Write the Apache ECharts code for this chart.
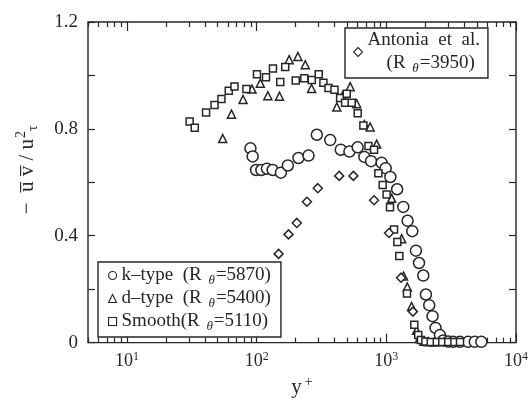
<!DOCTYPE html>
<html>
<head>
<meta charset="utf-8">
<script src="https://cdn.jsdelivr.net/npm/echarts@6/dist/echarts.min.js"></script>
<style>html,body{margin:0;padding:0;background:#fff}#c{width:531px;height:403px}</style>
</head>
<body>
<div id="c"></div>
<script>
// ---- data (y+ , -uv/u_tau^2) ----
const kType = [[89.5,0.727],[93.1,0.697],[98.8,0.646],[108.7,0.646],[120,0.651],[132.8,0.646],[153.8,0.636],[174,0.663],[210,0.691],[251,0.700],[291,0.778],[369,0.758],[445,0.722],[519,0.715],[601,0.731],[677,0.695],[763,0.679],[920,0.673],[988,0.653],[1074,0.620],[1211,0.574],[1351,0.508],[1458,0.456],[1585,0.417],[1692,0.344],[1786,0.298],[1927,0.251],[2019,0.180],[2142,0.140],[2271,0.099],[2395,0.055],[2590,0.028],[2744,0.008],[3000,0.004],[3275,0.003],[3690,0.003],[4274,0.003],[4810,0.003],[5410,0.003]];
const dType = [[54.7,0.764],[63.9,0.855],[78.5,0.910],[92,0.949],[106.7,0.971],[122,0.924],[150,0.922],[178,1.059],[208,1.071],[237,1.040],[265,0.951],[415,0.882],[459,0.923],[526,0.958],[591,0.894],[677,0.816],[750,0.807],[842,0.743],[1099,0.540],[1312,0.389],[1358,0.249],[1451,0.208],[1566,0.135],[1710,0.046],[1800,0.015],[1950,0.005],[2100,0.003],[2350,0.002]];
const smooth = [[30.4,0.828],[33.3,0.804],[40.7,0.861],[47.3,0.889],[53.5,0.912],[60.9,0.943],[67.4,0.959],[83.3,0.949],[100.5,1.004],[118,0.993],[133.5,1.026],[152,0.975],[166,1.032],[200,0.981],[233,0.989],[266,0.983],[301,1.004],[327,0.973],[358,0.953],[398,0.946],[440,0.916],[481,0.898],[495,0.931],[541,0.898],[601,0.858],[665,0.813],[728,0.736],[804,0.722],[868,0.634],[937,0.590],[1005,0.554],[1067,0.507],[1146,0.423],[1216,0.377],[1259,0.324],[1443,0.184],[1642,0.067],[1762,0.028],[1850,0.010],[2000,0.004],[2200,0.002],[2450,0.002],[2700,0.002],[3000,0.002],[3350,0.002],[3700,0.002]];
const antonia = [[147.6,0.332],[176,0.405],[204,0.448],[244,0.527],[296,0.578],[433,0.624],[557,0.624],[804,0.533],[1049,0.410],[1298,0.243],[1603,0.116]];

const seriesNames = ['k-type', 'd-type', 'Smooth', 'Antonia et al.'];
const legendLabels = {
  'k-type': '{t|k\u2013type  (R }{s|\u03b8}{t|=5870)}',
  'd-type': '{t|d\u2013type  (R }{s|\u03b8}{t|=5400)}',
  'Smooth': '{t|Smooth(R }{s|\u03b8}{t|=5110)}',
  'Antonia et al.': '{t|Antonia  et  al.}\n{t|    (R }{s|\u03b8}{t|=3950)}'
};
const xMajor = [10, 100, 1000, 10000];
const xMinor = [5,6,7,8,9,20,30,40,50,60,70,80,90,200,300,400,500,600,700,800,900,2000,3000,4000,5000,6000,7000,8000,9000];
const yLabels = ['0', '0.4', '0.8', '1.2'];

const INK = '#262626';
const FONT = '"Liberation Serif", "DejaVu Serif", serif';
const richText = {
  t: {fontFamily: FONT, fontSize: 19, color: INK, lineHeight: 23},
  s: {fontFamily: FONT, fontSize: 13, fontStyle: 'italic', color: INK, lineHeight: 23, verticalAlign: 'bottom', padding: [0, 1, 0, 2]}
};
const supRich = {
  b: {fontFamily: FONT, fontSize: 18, color: INK, lineHeight: 22},
  e: {fontFamily: FONT, fontSize: 12, color: INK, lineHeight: 22, verticalAlign: 'top'}
};
const nameRich = {
  b: {fontFamily: FONT, fontSize: 21, color: INK, lineHeight: 24},
  e: {fontFamily: FONT, fontSize: 14, color: INK, lineHeight: 24, verticalAlign: 'top', padding: [0, 0, 0, 3]}
};

function logAxis(pos, idx, isMajor) {
  return {
    type: 'log', logBase: 10, min: 5, max: 10000, position: pos,
    gridIndex: 0,
    axisLine: {show: false},
    splitLine: {show: false},
    axisTick: {show: true, inside: true, length: isMajor ? 9 : 5, lineStyle: {color: INK, width: 1.2},
      customValues: isMajor ? xMajor : xMinor},
    axisLabel: (isMajor && pos === 'bottom') ? {
      show: true, margin: 8, customValues: xMajor,
      formatter: v => '{b|10}{e|' + Math.round(Math.log10(v)) + '}',
      rich: supRich
    } : {show: false},
    name: (isMajor && pos === 'bottom') ? '{b|y}{e|+}' : '',
    nameLocation: 'middle', nameGap: 31,
    nameTextStyle: {fontFamily: FONT, fontSize: 21, color: INK, rich: nameRich}
  };
}
function linAxis(pos, showLabel) {
  return {
    type: 'value', min: 0, max: 1.2, interval: 0.2, position: pos,
    axisLine: {show: false}, splitLine: {show: false},
    axisTick: {show: true, inside: true, length: 7, lineStyle: {color: INK, width: 1.2}},
    axisLabel: showLabel ? {
      show: true, margin: 10, fontFamily: FONT, fontSize: 19, color: INK,
      formatter: v => { const s = v.toFixed(1); const m = {'0.0': '0', '0.4': '0.4', '0.8': '0.8', '1.2': '1.2'}; return m[s] || ''; }
    } : {show: false},
    name: showLabel ? '{t|\u2212  u\u0305 v\u0305 / u}{p|2}{q|\u03c4}' : '',
    nameLocation: 'middle', nameGap: 48, nameRotate: 90,
    nameTextStyle: {fontFamily: FONT, fontSize: 21, color: INK, padding: [0, 0, 0, 25], rich: {
      t: {fontFamily: FONT, fontSize: 21, color: INK, lineHeight: 26},
      p: {fontFamily: FONT, fontSize: 14, color: INK, lineHeight: 26, verticalAlign: 'top', padding: [0, 0, 0, 1]},
      q: {fontFamily: FONT, fontSize: 14, color: INK, lineHeight: 26, verticalAlign: 'bottom'}
    }}
  };
}

function sc(name, data, symbol, size) {
  return {
    name: name, type: 'scatter', data: data, symbol: symbol, symbolSize: size,
    xAxisIndex: 0, yAxisIndex: 0,
    itemStyle: {color: '#fff', borderColor: INK, borderWidth: 1.5, opacity: 1},
    emphasis: {disabled: true}
  };
}

const chart = echarts.init(document.getElementById('c'), null, {renderer: 'canvas'});
chart.setOption({
  animation: false,
  backgroundColor: '#fff',
  grid: {left: 88, right: 14, top: 22, bottom: 52, show: true, borderColor: INK, borderWidth: 1.4, backgroundColor: 'transparent'},
  xAxis: [logAxis('bottom', 0, true), logAxis('bottom', 1, false), logAxis('top', 2, true), logAxis('top', 3, false)],
  yAxis: [linAxis('left', true), linAxis('right', false)],
  legend: [
    {
      data: seriesNames.slice(0, 3), orient: 'vertical', left: 98, top: 262,
      itemWidth: 8, itemHeight: 8, itemGap: 2, padding: [4, 10, 4, 10],
      borderColor: INK, borderWidth: 1.4, backgroundColor: '#fff',
      itemStyle: {borderWidth: 1.1},
      formatter: n => legendLabels[n], textStyle: {rich: richText},
      selectedMode: false
    },
    {
      data: [seriesNames[3]], orient: 'vertical', left: 345, top: 28,
      itemWidth: 9, itemHeight: 9, padding: [3, 8, 3, 8],
      borderColor: INK, borderWidth: 1.4, backgroundColor: '#fff',
      itemStyle: {borderWidth: 1.1},
      formatter: n => legendLabels[n], textStyle: {rich: richText},
      selectedMode: false
    }
  ],
  series: [
    sc(seriesNames[0], kType, 'circle', 11),
    sc(seriesNames[1], dType, 'triangle', 8),
    sc(seriesNames[2], smooth, 'rect', 7),
    sc(seriesNames[3], antonia, 'diamond', 9)
  ]
});
</script>
</body>
</html>
